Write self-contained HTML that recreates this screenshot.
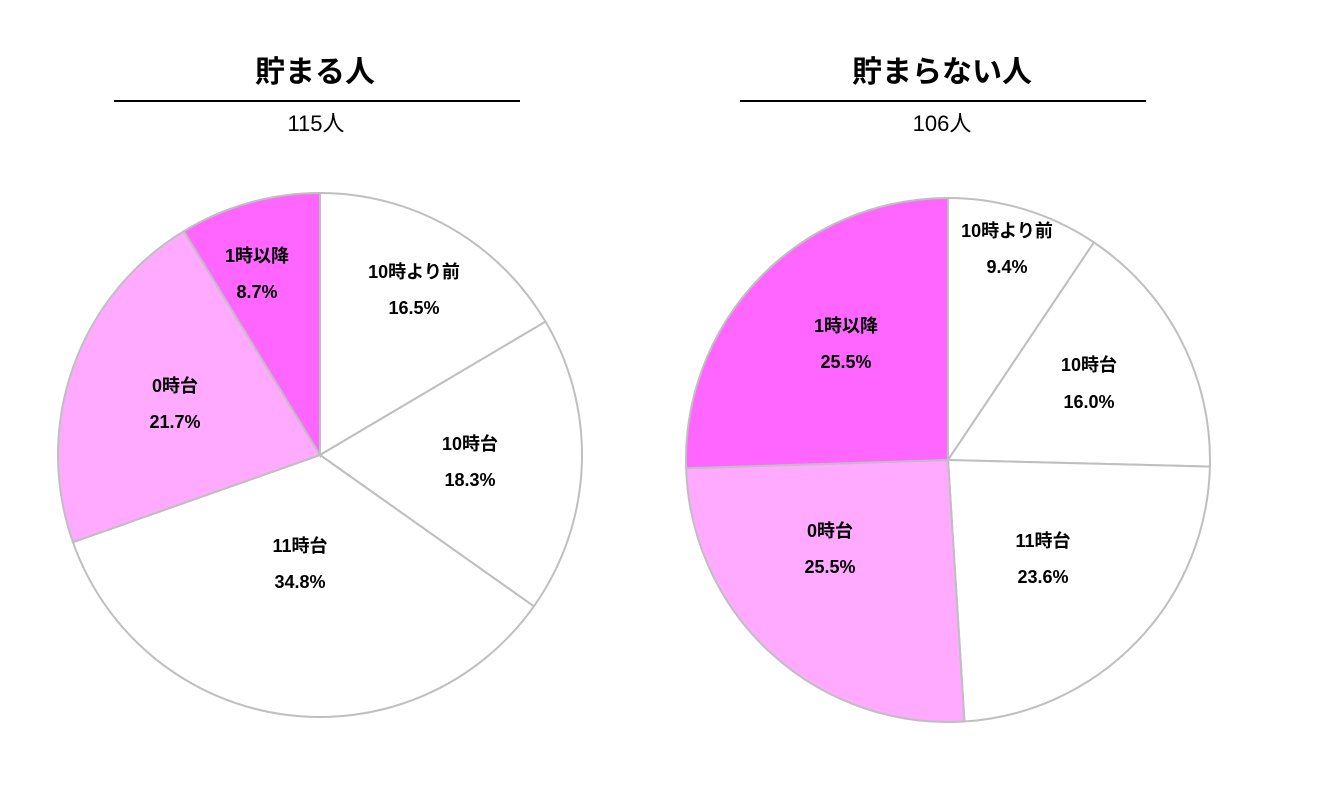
<!DOCTYPE html>
<html><head><meta charset="utf-8"><style>
body{margin:0;background:#fff;width:1326px;height:790px;overflow:hidden}
svg text{font-family:"Liberation Sans","Noto Sans CJK JP",sans-serif;text-anchor:middle}
.t{font-size:30px;font-weight:bold}
.n{font-size:22px}
.l{font-size:18px;font-weight:bold}
</style></head><body>
<svg id="s" width="1326" height="790" xmlns="http://www.w3.org/2000/svg">
<g id="p1"></g><g id="p2"></g>
<text class="t" x="315" y="82">貯まる人</text>
<line x1="114" y1="101" x2="520" y2="101" stroke="#000" stroke-width="2"/>
<text class="n" x="316" y="131">115人</text>
<text class="t" x="942" y="82">貯まらない人</text>
<line x1="740" y1="101" x2="1146" y2="101" stroke="#000" stroke-width="2"/>
<text class="n" x="942" y="131">106人</text>

<text class="l" x="414" y="278">10時より前</text><text class="l" x="414" y="314">16.5%</text>
<text class="l" x="470" y="450">10時台</text><text class="l" x="470" y="486">18.3%</text>
<text class="l" x="300" y="552">11時台</text><text class="l" x="300" y="588">34.8%</text>
<text class="l" x="175" y="392">0時台</text><text class="l" x="175" y="428">21.7%</text>
<text class="l" x="257" y="262">1時以降</text><text class="l" x="257" y="298">8.7%</text>

<text class="l" x="1007" y="237">10時より前</text><text class="l" x="1007" y="273">9.4%</text>
<text class="l" x="1089" y="371">10時台</text><text class="l" x="1089" y="408">16.0%</text>
<text class="l" x="1043" y="547">11時台</text><text class="l" x="1043" y="583">23.6%</text>
<text class="l" x="830" y="537">0時台</text><text class="l" x="830" y="573">25.5%</text>
<text class="l" x="846" y="332">1時以降</text><text class="l" x="846" y="368">25.5%</text>
</svg>
<script>
function pie(id,cx,cy,r,vals,cols){
  var g=document.getElementById(id),a=0,tot=vals.reduce((x,y)=>x+y,0),h='';
  vals.forEach(function(v,i){
    var a1=a+v/tot*2*Math.PI;
    var x0=cx+r*Math.sin(a),y0=cy-r*Math.cos(a),x1=cx+r*Math.sin(a1),y1=cy-r*Math.cos(a1);
    h+='<path d="M'+cx+' '+cy+'L'+x0+' '+y0+'A'+r+' '+r+' 0 '+((a1-a)>Math.PI?1:0)+' 1 '+x1+' '+y1+'Z" fill="'+cols[i]+'" stroke="#bfbfbf" stroke-width="2"/>';
    a=a1;
  });
  g.innerHTML=h;
}
var c=['#fff','#fff','#fff','#ffaaff','#ff66ff'];
pie('p1',320,455,262,[16.5,18.3,34.8,21.7,8.7],c);
pie('p2',948,460,262,[9.4,16.0,23.6,25.5,25.5],c);
</script>
</body></html>
